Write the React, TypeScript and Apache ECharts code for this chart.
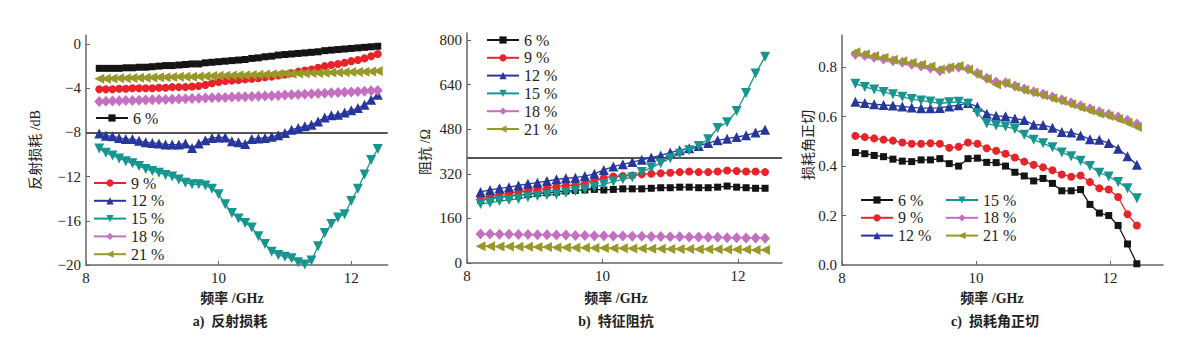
import { useEffect, useRef } from "react";
import * as echarts from "echarts";

// ---------- data ----------
const SERIES_NAMES = ["6 %", "9 %", "12 %", "15 %", "18 %", "21 %"];

const X_TICKS = [8, 10, 12];
const A_Y_TICKS = [-20, -16, -12, -8, -4, 0];
const B_Y_TICKS = [0, 160, 320, 480, 640, 800];
const C_Y_TICKS = [0, 0.2, 0.4, 0.6, 0.8];

const REF_A = -8; // dB reference line
const REF_B = 377; // free-space impedance line

const FREQ_A = [8.2, 8.3, 8.4, 8.5, 8.6, 8.7, 8.8, 8.9, 9.0, 9.1, 9.2, 9.3, 9.4, 9.5, 9.6, 9.7, 9.8, 9.9, 10.0, 10.1, 10.2, 10.3, 10.4, 10.5, 10.6, 10.7, 10.8, 10.9, 11.0, 11.1, 11.2, 11.3, 11.4, 11.5, 11.6, 11.7, 11.8, 11.9, 12.0, 12.1, 12.2, 12.3, 12.4];
const FREQ_BC = [8.2, 8.34, 8.48, 8.62, 8.76, 8.9, 9.04, 9.18, 9.32, 9.46, 9.6, 9.74, 9.88, 10.02, 10.16, 10.3, 10.44, 10.58, 10.72, 10.86, 11.0, 11.14, 11.28, 11.42, 11.56, 11.7, 11.84, 11.98, 12.12, 12.26, 12.4];

// a) reflection loss (dB)
const RL_6 = [-2.2, -2.2, -2.2, -2.2, -2.15, -2.15, -2.1, -2.1, -2.05, -2.0, -1.95, -1.95, -1.9, -1.85, -1.8, -1.8, -1.7, -1.65, -1.6, -1.55, -1.5, -1.45, -1.4, -1.3, -1.25, -1.15, -1.1, -1.0, -0.95, -0.9, -0.85, -0.8, -0.75, -0.7, -0.6, -0.55, -0.5, -0.45, -0.4, -0.35, -0.3, -0.25, -0.2];
const RL_9 = [-4.1, -4.1, -4.1, -4.05, -4.05, -4.0, -4.0, -4.0, -4.0, -3.95, -3.95, -3.9, -3.9, -3.9, -3.85, -3.8, -3.7, -3.55, -3.45, -3.35, -3.3, -3.25, -3.2, -3.15, -3.1, -3.0, -2.95, -2.85, -2.75, -2.65, -2.5, -2.4, -2.3, -2.15, -2.0, -1.9, -1.8, -1.7, -1.55, -1.45, -1.3, -1.1, -0.9];
const RL_12 = [-8.1, -8.3, -8.35, -8.5, -8.6, -8.6, -8.75, -8.9, -8.95, -9.0, -9.1, -9.1, -9.1, -9.0, -9.4, -9.0, -8.7, -8.5, -8.45, -8.45, -8.8, -8.9, -9.05, -8.6, -8.55, -8.5, -8.4, -8.25, -8.05, -7.75, -7.6, -7.45, -7.3, -7.0, -6.65, -6.45, -6.4, -6.2, -6.0, -5.8, -5.5, -5.05, -4.6];
const RL_15 = [-9.45, -9.85, -10.1, -10.35, -10.6, -10.8, -11.05, -11.3, -11.5, -11.65, -11.85, -12.0, -12.25, -12.55, -12.7, -12.7, -12.8, -13.1, -13.6, -14.5, -15.3, -15.8, -16.2, -16.6, -17.4, -18.1, -18.8, -19.1, -19.25, -19.4, -19.75, -19.95, -19.6, -18.3, -17.1, -16.3, -15.7, -15.4, -14.2, -13.1, -11.8, -10.5, -9.5];
const RL_18 = [-5.2, -5.18, -5.16, -5.14, -5.12, -5.1, -5.08, -5.06, -5.05, -5.03, -5.01, -4.99, -4.97, -4.95, -4.93, -4.91, -4.89, -4.87, -4.85, -4.83, -4.8, -4.78, -4.76, -4.74, -4.72, -4.7, -4.67, -4.65, -4.62, -4.6, -4.57, -4.54, -4.51, -4.48, -4.45, -4.42, -4.39, -4.36, -4.33, -4.3, -4.27, -4.23, -4.2];
const RL_21 = [-3.15, -3.15, -3.12, -3.1, -3.1, -3.08, -3.05, -3.05, -3.02, -3.0, -3.0, -2.98, -2.97, -2.95, -2.95, -2.93, -2.92, -2.9, -2.88, -2.87, -2.85, -2.83, -2.82, -2.8, -2.78, -2.76, -2.74, -2.72, -2.7, -2.68, -2.66, -2.65, -2.63, -2.62, -2.6, -2.58, -2.57, -2.55, -2.54, -2.52, -2.5, -2.48, -2.45];

// b) characteristic impedance (Ω)
const Z_6 = [225, 232, 236, 240, 244, 246, 250, 252, 254, 258, 260, 262, 264, 262, 264, 266, 266, 266, 268, 270, 270, 272, 272, 270, 270, 272, 276, 272, 270, 268, 268];
const Z_9 = [235, 240, 246, 250, 255, 260, 264, 268, 274, 278, 280, 286, 296, 305, 310, 312, 314, 318, 320, 322, 324, 326, 328, 326, 326, 328, 332, 330, 328, 328, 326];
const Z_12 = [255, 262, 268, 272, 278, 284, 288, 294, 300, 304, 306, 312, 320, 334, 346, 354, 362, 370, 378, 386, 396, 404, 412, 420, 430, 440, 446, 452, 458, 468, 478];
const Z_15 = [212, 216, 222, 226, 230, 236, 240, 244, 246, 252, 258, 264, 272, 282, 292, 300, 308, 326, 342, 358, 376, 392, 404, 420, 444, 484, 505, 545, 610, 680, 740];
const Z_18 = [104, 104, 103, 103, 102, 102, 101, 101, 100, 100, 99, 99, 98, 98, 97, 97, 96, 96, 95, 95, 94, 94, 93, 93, 92, 92, 91, 91, 90, 90, 89];
const Z_21 = [60, 60, 59, 59, 58, 58, 57, 57, 56, 56, 55, 55, 54, 54, 53, 53, 52, 52, 51, 51, 50, 50, 50, 49, 49, 49, 48, 48, 48, 47, 47];

// c) loss tangent
const T_6 = [0.455, 0.45, 0.443, 0.438, 0.428, 0.42, 0.418, 0.425, 0.425, 0.43, 0.41, 0.4, 0.43, 0.432, 0.415, 0.414, 0.4, 0.375, 0.36, 0.34, 0.35, 0.33, 0.3, 0.3, 0.305, 0.245, 0.21, 0.2, 0.16, 0.085, 0.005];
const T_9 = [0.522, 0.517, 0.512, 0.507, 0.503, 0.495, 0.49, 0.49, 0.492, 0.49, 0.474, 0.478, 0.495, 0.49, 0.472, 0.462, 0.45, 0.435, 0.418, 0.405, 0.395, 0.383, 0.366, 0.357, 0.362, 0.335, 0.31, 0.305, 0.275, 0.205, 0.16];
const T_12 = [0.66, 0.655, 0.65, 0.647, 0.645, 0.641, 0.637, 0.634, 0.634, 0.635, 0.641, 0.646, 0.655, 0.64, 0.612, 0.603, 0.601, 0.592, 0.586, 0.567, 0.566, 0.555, 0.538, 0.536, 0.524, 0.508, 0.506, 0.493, 0.47, 0.44, 0.405];
const T_15 = [0.733, 0.72, 0.71, 0.7, 0.69, 0.68, 0.671, 0.665, 0.661, 0.653, 0.658, 0.66, 0.652, 0.615, 0.572, 0.564, 0.56, 0.55, 0.527, 0.506, 0.492, 0.476, 0.455, 0.44, 0.422, 0.4, 0.373, 0.358, 0.336, 0.31, 0.27];
const T_18 = [0.852, 0.847, 0.84, 0.833, 0.826, 0.82, 0.812, 0.805, 0.797, 0.785, 0.795, 0.8, 0.793, 0.775, 0.755, 0.74, 0.737, 0.724, 0.712, 0.701, 0.69, 0.679, 0.668, 0.656, 0.644, 0.632, 0.62, 0.61, 0.598, 0.585, 0.57];
const T_21 = [0.86, 0.852, 0.845, 0.838, 0.83, 0.824, 0.818, 0.81, 0.803, 0.79, 0.8, 0.805, 0.79, 0.77, 0.752, 0.73, 0.735, 0.72, 0.708, 0.697, 0.686, 0.674, 0.663, 0.65, 0.637, 0.625, 0.612, 0.602, 0.59, 0.575, 0.558];

// ---------- styles ----------
const COLORS = ["#141414", "#e8232a", "#27369a", "#17958f", "#c46fc0", "#99992a"];
const SYMBOLS = ["rect", "circle", "triangle", "triangle", "diamond", "triangle"];
const ROTATES = [0, 0, 0, 180, 0, 90];
const SIZES = [7, 8, 10, 10, [10, 11], 10];

const SERIF = "'Liberation Serif', 'Times New Roman', serif";
const MIXED = "'Liberation Serif', 'Noto Sans CJK SC', serif";
const AXIS_COLOR = "#666";

function buildOption() {
  const panels = [
    { freq: FREQ_A, sets: [RL_6, RL_9, RL_12, RL_15, RL_18, RL_21], ref: REF_A },
    { freq: FREQ_BC, sets: [Z_6, Z_9, Z_12, Z_15, Z_18, Z_21], ref: REF_B },
    { freq: FREQ_BC, sets: [T_6, T_9, T_12, T_15, T_18, T_21], ref: null as number | null },
  ];

  const grids = [
    { left: 86, top: 35.2, width: 301.7, height: 229.8 },
    { left: 467, top: 33, width: 315, height: 230 },
    { left: 842, top: 35, width: 321, height: 230 },
  ];
  const xMax = [12.55, 12.65, 12.79];
  const yRange = [
    [-20, 0.8],
    [0, 825],
    [0, 0.93],
  ];
  const yTicks = [A_Y_TICKS, B_Y_TICKS, C_Y_TICKS];
  const yFmt = [
    (v: number) => (v < 0 ? "\u2212" + Math.abs(v) : String(v)),
    (v: number) => String(v),
    (v: number) => v.toFixed(1),
  ];

  const xAxis = grids.map((_, i) => ({
    type: "value",
    gridIndex: i,
    min: 8,
    max: xMax[i],
    axisLine: { onZero: false, lineStyle: { color: AXIS_COLOR, width: 1.5 } },
    axisTick: { inside: true, length: 4, customValues: X_TICKS, lineStyle: { color: AXIS_COLOR } },
    axisLabel: { customValues: X_TICKS, fontFamily: SERIF, fontSize: 15, color: "#222", margin: 5 },
    splitLine: { show: false },
  }));

  const yAxis = grids.map((_, i) => ({
    type: "value",
    gridIndex: i,
    min: yRange[i][0],
    max: yRange[i][1],
    axisLine: { show: true, onZero: false, lineStyle: { color: AXIS_COLOR, width: 1.5 } },
    axisTick: { show: true, inside: true, length: 4, customValues: yTicks[i], lineStyle: { color: AXIS_COLOR } },
    axisLabel: { customValues: yTicks[i], formatter: yFmt[i], fontFamily: SERIF, fontSize: 15, color: "#222", margin: 5 },
    splitLine: { show: false },
  }));

  const series: any[] = [];
  panels.forEach((p, pi) => {
    p.sets.forEach((vals, si) => {
      const s: any = {
        type: "line",
        name: SERIES_NAMES[si],
        xAxisIndex: pi,
        yAxisIndex: pi,
        data: p.freq.map((f, k) => [f, vals[k]]),
        symbol: SYMBOLS[si],
        symbolSize: SIZES[si],
        symbolRotate: ROTATES[si],
        showSymbol: true,
        itemStyle: { color: COLORS[si] },
        lineStyle: { color: COLORS[si], width: 1.3 },
        z: 3,
      };
      if (si === 0 && p.ref !== null) {
        s.markLine = {
          silent: true,
          symbol: "none",
          label: { show: false },
          lineStyle: { color: "#555", width: 2, type: "solid" },
          data: [{ yAxis: p.ref }],
          z: 1,
        };
      }
      series.push(s);
    });
  });

  const legendBase = {
    orient: "vertical",
    selectedMode: false,
    padding: 0,
    itemWidth: 32,
    itemHeight: 9,
    itemGap: 1.8,
    textStyle: { fontFamily: SERIF, fontSize: 16, color: "#222" },
  };
  const legend = [
    { ...legendBase, left: 95, top: 110, data: ["6 %"] },
    { ...legendBase, left: 93, top: 175, data: ["9 %", "12 %", "15 %", "18 %", "21 %"] },
    { ...legendBase, left: 486, top: 32, data: SERIES_NAMES },
    { ...legendBase, left: 860, top: 192, data: ["6 %", "9 %", "12 %"] },
    { ...legendBase, left: 945, top: 192, data: ["15 %", "18 %", "21 %"] },
  ];

  const txt = (x: number, y: number, text: string, rot = 0, bold = false) => ({
    type: "text",
    x,
    y,
    rotation: rot,
    style: {
      text,
      fontFamily: MIXED,
      fontSize: 14,
      fontWeight: bold ? "bold" : "normal",
      fill: "#222",
      align: "center",
      verticalAlign: "middle",
    },
  });

  const graphic = [
    txt(35, 150, "反射损耗 /dB", Math.PI / 2),
    txt(425, 152, "阻抗 /Ω", Math.PI / 2),
    txt(808, 145, "损耗角正切", Math.PI / 2),
    txt(232, 298, "频率 /GHz", 0, true),
    txt(616, 298, "频率 /GHz", 0, true),
    txt(992, 298, "频率 /GHz", 0, true),
    txt(230, 321, "a)  反射损耗", 0, true),
    txt(616, 321, "b)  特征阻抗", 0, true),
    txt(995, 321, "c)  损耗角正切", 0, true),
  ];

  return {
    animation: false,
    backgroundColor: "#ffffff",
    grid: grids,
    xAxis,
    yAxis,
    legend,
    series,
    graphic,
  };
}

export default function App() {
  const ref = useRef<HTMLDivElement>(null);
  useEffect(() => {
    document.body.style.margin = "0";
    if (!ref.current) return;
    const chart = echarts.init(ref.current, undefined, { renderer: "svg" });
    chart.setOption(buildOption() as any);
    return () => chart.dispose();
  }, []);
  return <div ref={ref} style={{ width: 1200, height: 351 }} />;
}
